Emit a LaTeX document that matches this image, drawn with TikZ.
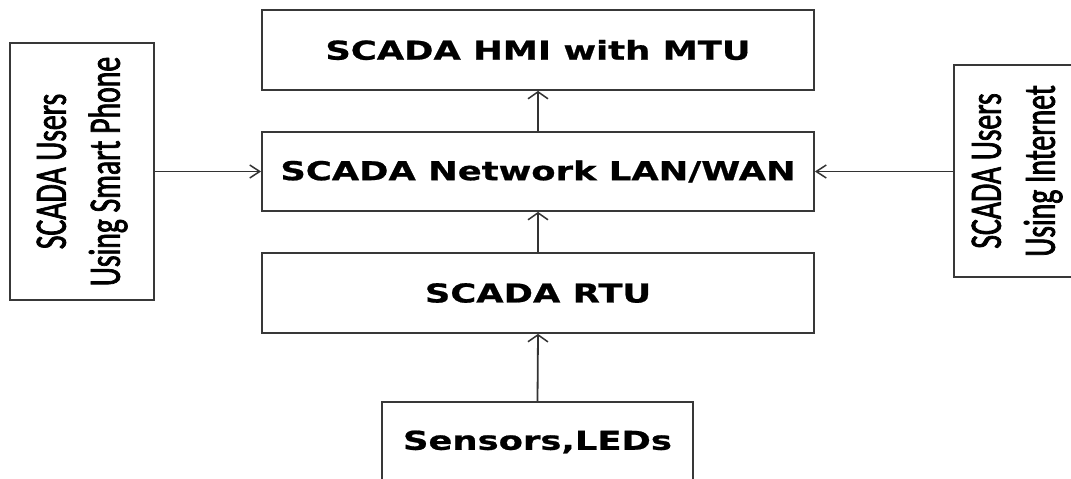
\documentclass[tikz,border=0pt]{standalone}
\usepackage{fontspec}
\usetikzlibrary{arrows.meta}
\newfontfamily\boxfont{DejaVu Sans}[FakeStretch=1.36,FakeBold=0.8]
\newfontfamily\sidefont{Carlito}[FakeStretch=0.66,FakeBold=1.6]
\tikzset{
  blk/.style={draw=black!78, line width=1.8pt, inner sep=0pt, align=center,
    font=\boxfont\bfseries\fontsize{26}{30}\selectfont},
  side/.style={draw=black!78, line width=1.8pt, inner sep=0pt},
  conn/.style={draw=black!80, line width=1.8pt},
  varr/.style={conn, -{Straight Barb[length=7pt,width=20pt,line width=1.5pt]}},
  harr/.style={conn, -{Straight Barb[length=10pt,width=13pt,line width=1.5pt]}}
}
\newcommand{\sidetext}[2]{\rotatebox{90}{\sidefont\fontsize{45}{54}\selectfont
  \begin{tabular}{@{}c@{}}#1\\#2\end{tabular}}}
\begin{document}
\begin{tikzpicture}[x=1pt,y=-1pt]
\useasboundingbox (0,0) rectangle (1071,479);
\fill[white] (0,0) rectangle (1071,479);
\node[blk, minimum width=552pt, minimum height=80pt] (hmi) at (538,50) {SCADA HMI with MTU};
\node[blk, minimum width=552pt, minimum height=79pt] (net) at (538,171.5) {SCADA Network LAN/WAN};
\node[blk, minimum width=552pt, minimum height=80pt] (rtu) at (538,293) {SCADA RTU};
\node[blk, minimum width=311pt, minimum height=80pt] (sen) at (537.5,442) {Sensors,LEDs};
\node[side, minimum width=144pt, minimum height=257pt] (left) at (82,171.5) {\sidetext{SCADA Users}{Using Smart Phone}};
\node[side, minimum width=126pt, minimum height=212pt] (right) at (1017,171) {\sidetext{SCADA Users}{Using Internet}};
\draw[harr] (left.east |- net.west) -- (net.west);
\draw[harr] (right.west |- net.east) -- (net.east);
\draw[varr] (net.north) -- (hmi.south);
\draw[varr] (rtu.north) -- (net.south);
\draw[varr] (sen.north) -- (rtu.south);
\end{tikzpicture}
\end{document}
